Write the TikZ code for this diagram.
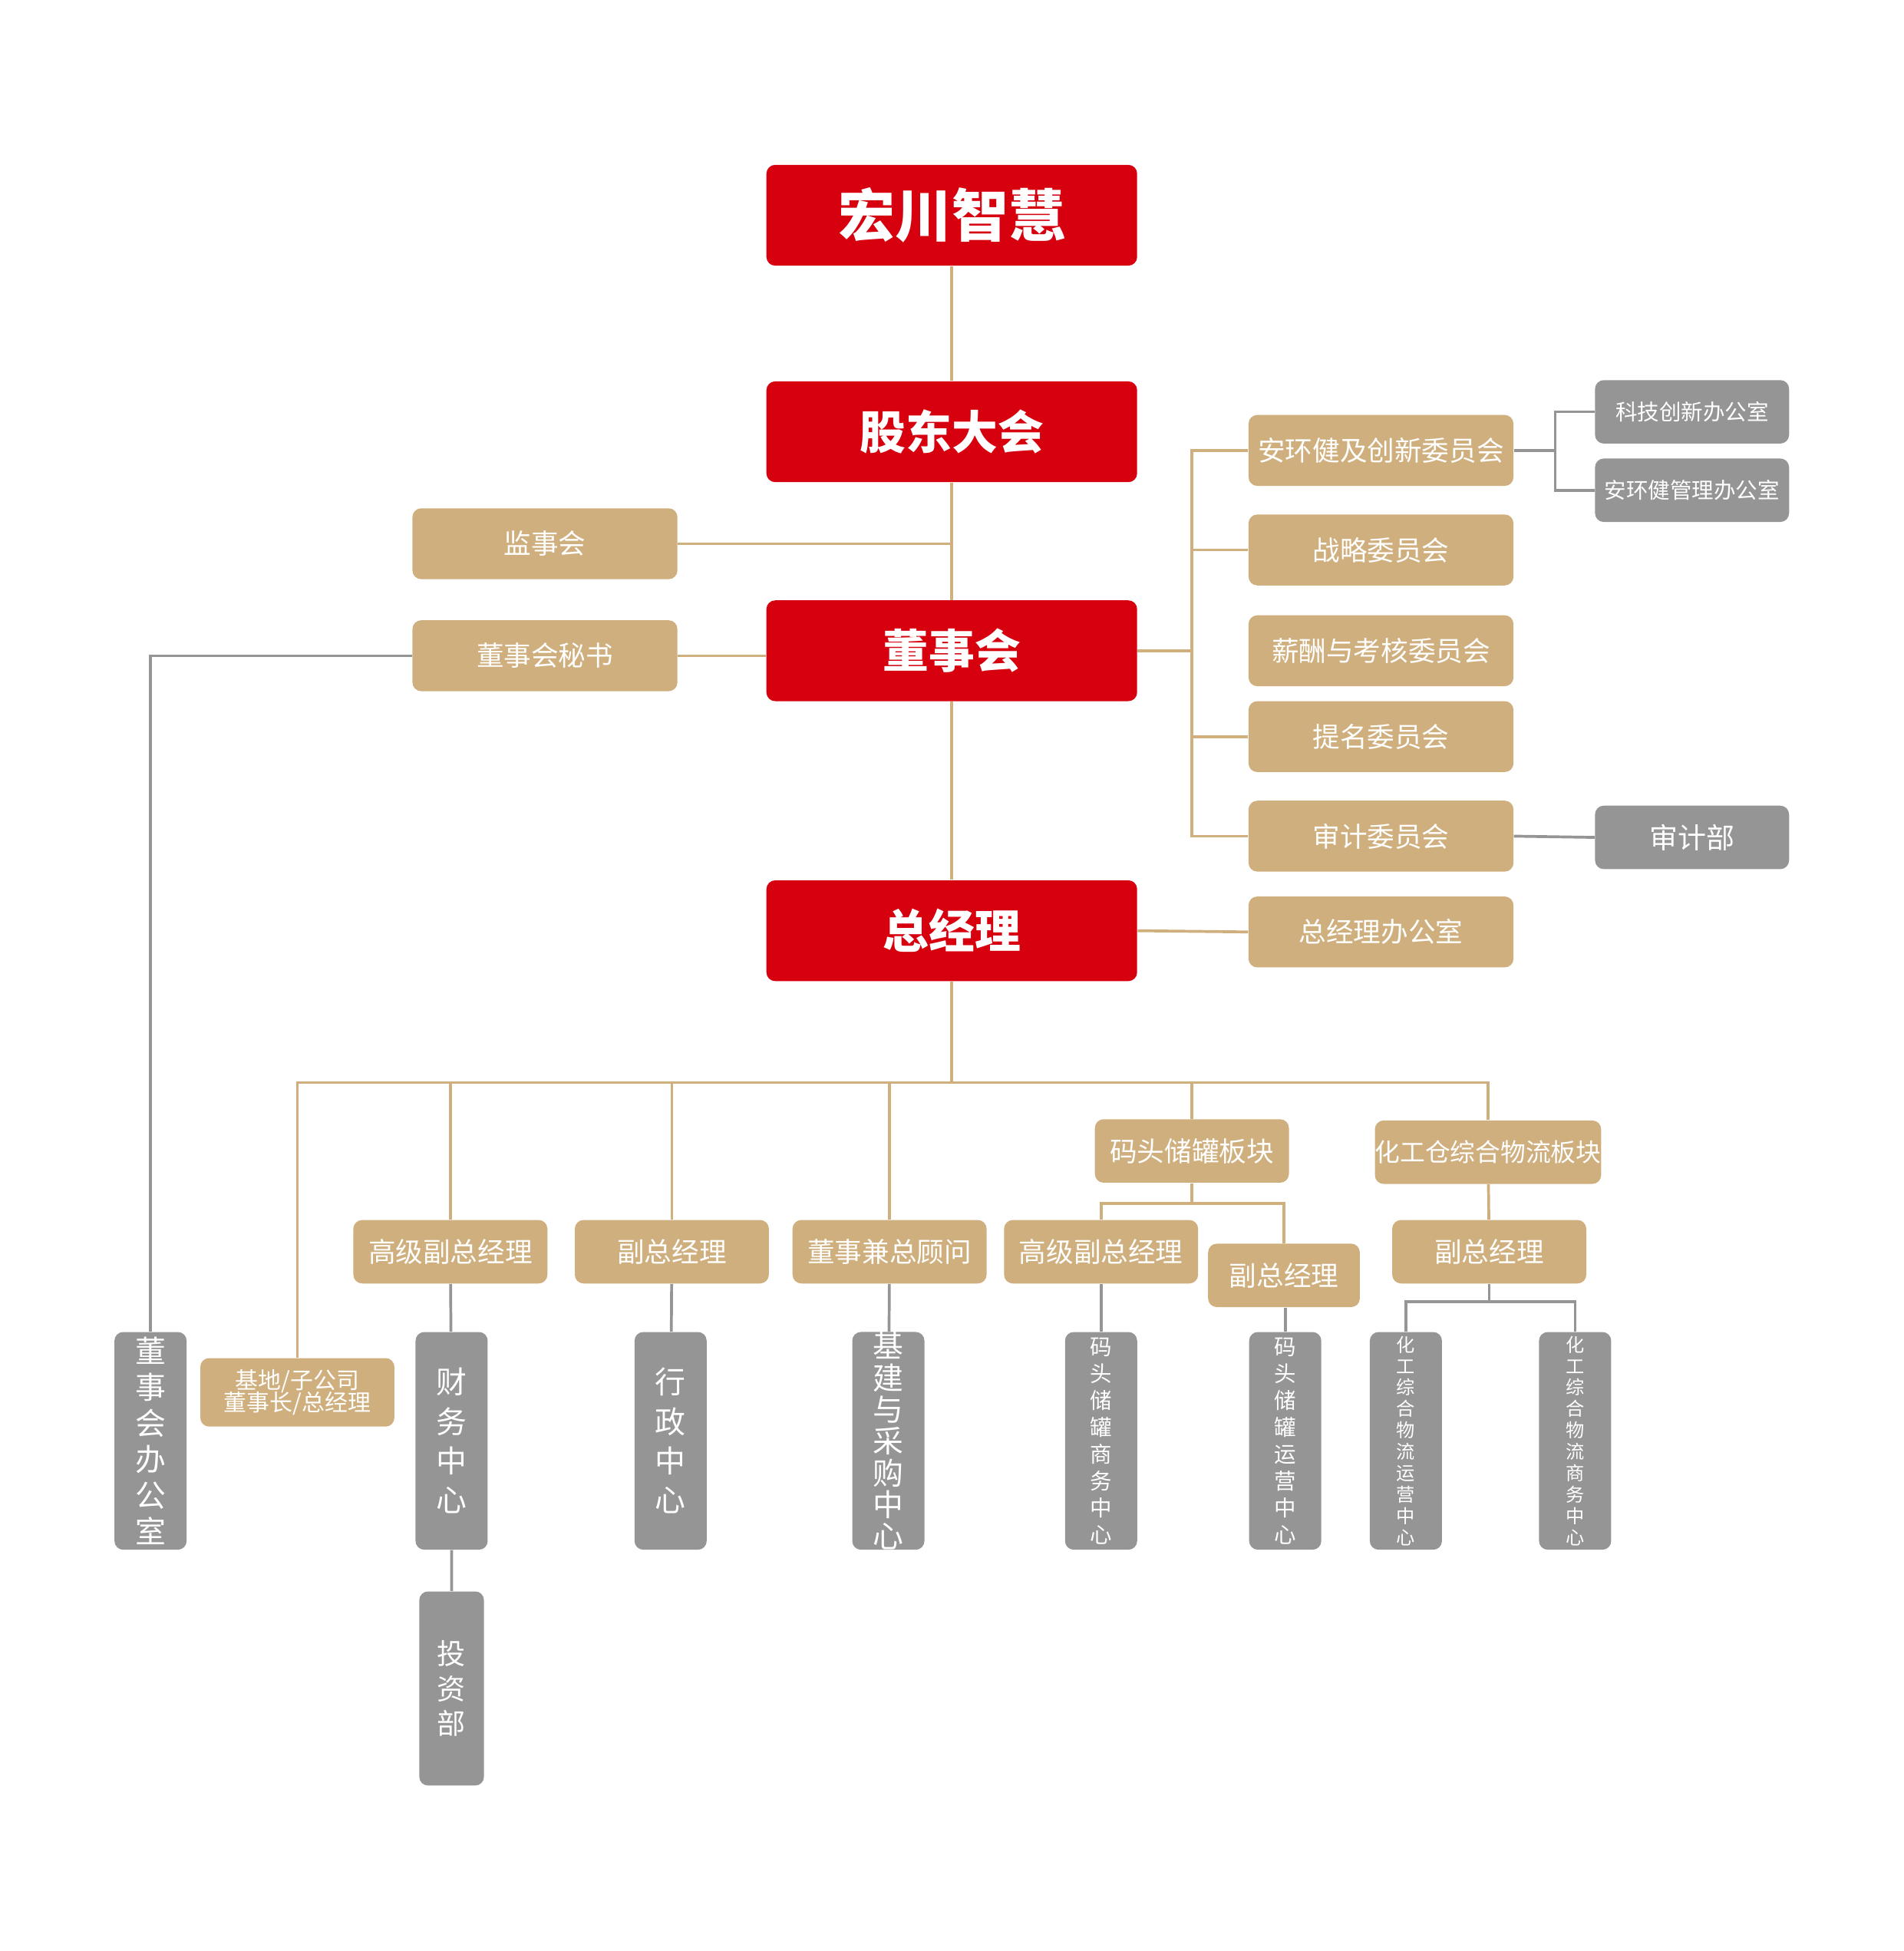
\documentclass[tikz,border=0pt]{standalone}
\usepackage{fontspec}
\setmainfont{Noto Sans CJK SC}
\usetikzlibrary{positioning}
\definecolor{hcred}{HTML}{D7000F}
\definecolor{hctan}{HTML}{CFAF7E}
\definecolor{hcgray}{HTML}{959595}
\tikzset{
	base/.style={rounded corners=4pt, text=white, inner sep=0pt, align=center},
	redbox/.style={base, fill=hcred, minimum width=5.96cm, minimum height=1.62cm, font=\fontsize{21}{24}\selectfont\bfseries},
	tanbox/.style={base, fill=hctan, minimum width=4.26cm, minimum height=1.14cm, font=\fontsize{12.5}{15}\selectfont},
	tansmall/.style={base, fill=hctan, minimum width=3.12cm, minimum height=1.02cm, font=\fontsize{12.5}{15}\selectfont},
	graybox/.style={base, fill=hcgray, minimum width=3.12cm, minimum height=1.02cm, font=\fontsize{10}{12}\selectfont},
	vbox/.style={base, fill=hcgray, minimum width=1.16cm, minimum height=3.5cm},
	tanline/.style={draw=hctan, line width=1.3pt},
	grayline/.style={draw=hcgray, line width=1.3pt}}
\begin{document}
\begin{tikzpicture}[x=0.02cm, y=-0.02cm]
	\useasboundingbox (0,0) rectangle (1530,1568);
	
	% top spine
	\node[redbox, font=\fontsize{26}{30}\selectfont\bfseries\itshape] (hc) at (765,173) {宏川智慧};
	\node[redbox] (gd) at (765,347) {股东大会};
	\node[redbox] (ds) at (765,523) {董事会};
	\node[redbox] (zj) at (765,748) {总经理};
	\node[tanbox] (js) at (438,437) {监事会};
	\node[tanbox] (ms) at (438,527) {董事会秘书};
	
	% committees
	\node[tanbox] (ah) at (1110,362) {安环健及创新委员会};
	\node[tanbox] (zl) at (1110,442) {战略委员会};
	\node[tanbox] (xc) at (1110,523) {薪酬与考核委员会};
	\node[tanbox] (tm) at (1110,592) {提名委员会};
	\node[tanbox] (sj) at (1110,672) {审计委员会};
	\node[tanbox] (zb) at (1110,749) {总经理办公室};
	\node[graybox] (kj) at (1360,331) {科技创新办公室};
	\node[graybox] (ag) at (1360,394) {安环健管理办公室};
	\node[graybox, font=\fontsize{13}{15}\selectfont] (sjb) at (1360,673) {审计部};
	
	% second level
	\node[tansmall] (g1) at (362,1006) {高级副总经理};
	\node[tansmall] (f1) at (540,1006) {副总经理};
	\node[tansmall] (gw) at (715,1006) {董事兼总顾问};
	\node[tansmall] (mt) at (958,925) {码头储罐板块};
	\node[tansmall, font=\fontsize{11.5}{14}\selectfont] (hg) at (1196,926) {化工仓综合物流板块};
	\node[tansmall] (g2) at (885,1006) {高级副总经理};
	\node[tansmall, minimum width=2.44cm] (f2) at (1032,1025) {副总经理};
	\node[tansmall] (f3) at (1197,1006) {副总经理};
	\node[tansmall, minimum height=1.1cm, font=\fontsize{10.5}{12}\selectfont] (jd) at (239,1119) {基地/子公司\\[-2pt]董事长/总经理};
	
	% bottom centres
	\node[vbox, font=\fontsize{14}{16.5}\selectfont] (db) at (121,1158) {董\\事\\会\\办\\公\\室};
	\node[vbox, font=\fontsize{14}{18}\selectfont] (cw) at (363,1158) {财\\务\\中\\心};
	\node[vbox, font=\fontsize{14}{18}\selectfont] (xz) at (539,1158) {行\\政\\中\\心};
	\node[vbox, font=\fontsize{14}{14.5}\selectfont] (jj) at (714,1158) {基\\建\\与\\采\\购\\中\\心};
	\node[vbox, font=\fontsize{10}{12.3}\selectfont] (ms1) at (885,1158) {码\\头\\储\\罐\\商\\务\\中\\心};
	\node[vbox, font=\fontsize{10}{12.3}\selectfont] (my1) at (1033,1158) {码\\头\\储\\罐\\运\\营\\中\\心};
	\node[vbox, font=\fontsize{8.5}{9.8}\selectfont] (hy1) at (1130,1158) {化\\工\\综\\合\\物\\流\\运\\营\\中\\心};
	\node[vbox, font=\fontsize{8.5}{9.8}\selectfont] (hs1) at (1266,1158) {化\\工\\综\\合\\物\\流\\商\\务\\中\\心};
	\node[vbox, minimum width=1.04cm, minimum height=3.12cm, font=\fontsize{13}{16}\selectfont] (tz) at (363,1357) {投\\资\\部};
	
	% spine connectors
	\draw[tanline] (hc) -- (gd) (gd) -- (ds) (ds) -- (zj);
	\draw[tanline] (js.east) -- (js.east -| gd);
	\draw[tanline] (ms.east) -- (ms.east -| ds.west);
	\draw[grayline] (ms.west) -| (db.north);
	\draw[tanline] (ds.east) -- (958,523);
	\foreach \c in {ah,zl,tm,sj} \draw[tanline] (958,523) |- (\c.west);
	\draw[tanline] (zj.east) -- (zb.west);
	\draw[grayline] (ah.east) -- (1250,362) |- (kj.west);
	\draw[grayline] (1250,362) |- (ag.west);
	\draw[grayline] (sj.east) -- (sjb.west);
	
	% general manager tree
	\draw[tanline] (zj.south) -- (765,870);
	\foreach \c in {jd,g1,f1,gw,mt,hg} \draw[tanline] (765,870) -| (\c.north);
	\draw[tanline] (mt.south) -- (958,967) -| (g2.north);
	\draw[tanline] (958,967) -| (f2.north);
	\draw[tanline] (hg) -- (f3);
	\draw[grayline] (g1) -- (cw) (cw) -- (tz);
	\draw[grayline] (f1) -- (xz);
	\draw[grayline] (gw) -- (jj);
	\draw[grayline] (g2.south -| ms1) -- (ms1);
	\draw[grayline] (f2.south -| my1) -- (my1);
	\draw[grayline] (f3.south) -- (1197,1046) -| (hy1.north);
	\draw[grayline] (1197,1046) -| (hs1.north);
\end{tikzpicture}
\end{document}
